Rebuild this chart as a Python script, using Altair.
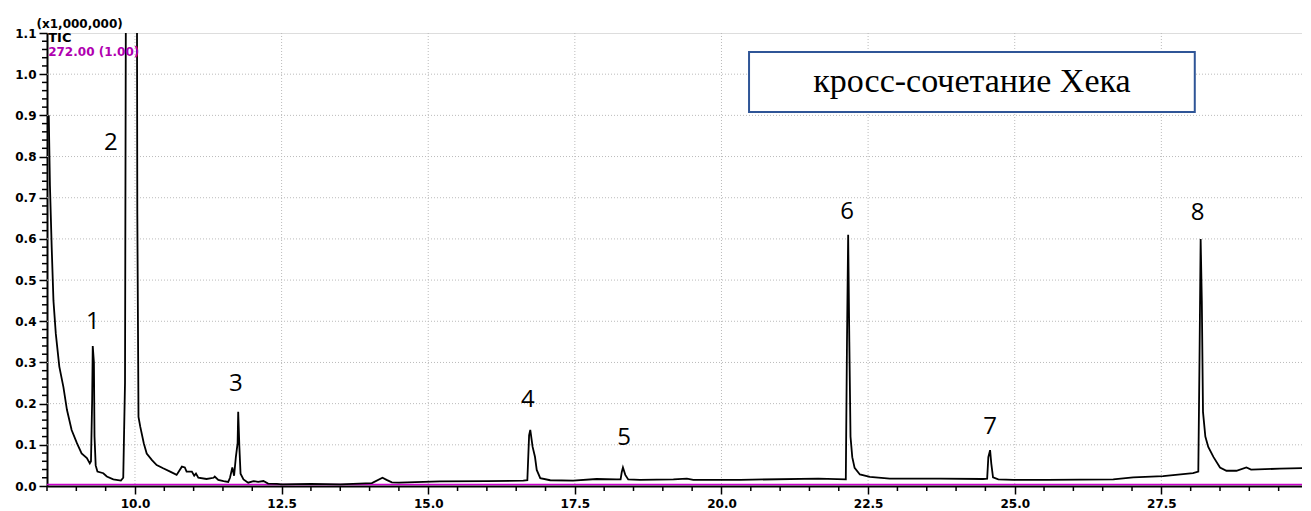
import altair as alt
import pandas as pd
import numpy as np

# ---- data ----
rt_min = [8.53, 8.55, 8.58, 8.61, 8.65, 8.71, 8.78, 8.84, 8.92, 9.01, 9.09, 9.18, 9.23,
          9.25, 9.27, 9.28, 9.30, 9.31, 9.33, 9.36, 9.46, 9.52, 9.63, 9.76, 9.80, 9.83,
          9.85, 10.03, 10.04, 10.06, 10.09, 10.15, 10.20, 10.29, 10.37, 10.48, 10.60, 10.71,
          10.80, 10.85, 10.88, 10.97, 11.01, 11.04, 11.08, 11.22, 11.34, 11.36, 11.42, 11.51,
          11.59, 11.62, 11.66, 11.69, 11.72, 11.75, 11.76, 11.78, 11.80, 11.85, 11.93, 12.02,
          12.10, 12.19, 12.27, 12.42, 12.50, 13.00, 13.50, 14.04, 14.22, 14.29, 14.38, 14.50,
          15.20, 16.00, 16.62, 16.69, 16.72, 16.74, 16.78, 16.82, 16.85, 16.91, 17.08, 17.47,
          17.87, 18.21, 18.28, 18.30, 18.32, 18.36, 18.41, 18.61, 19.18, 19.41, 19.52, 20.32,
          21.65, 22.12, 22.14, 22.16, 22.18, 22.20, 22.23, 22.27, 22.36, 22.53, 22.87, 23.73,
          24.46, 24.53, 24.55, 24.58, 24.60, 24.63, 24.72, 24.98, 25.55, 26.68, 27.02, 27.53,
          28.04, 28.13, 28.15, 28.17, 28.19, 28.21, 28.25, 28.30, 28.39, 28.50, 28.61, 28.78,
          28.95, 29.03, 29.52, 30.00]
tic_signal = [0.90, 0.73, 0.58, 0.45, 0.37, 0.29, 0.24, 0.185, 0.136, 0.104, 0.079, 0.068, 0.055,
              0.06, 0.21, 0.34, 0.30, 0.12, 0.05, 0.035, 0.031, 0.023, 0.016, 0.013, 0.02, 0.25,
              1.5, 1.5, 0.66, 0.168, 0.144, 0.104, 0.079, 0.063, 0.051, 0.043, 0.035, 0.027,
              0.047, 0.045, 0.035, 0.035, 0.025, 0.03, 0.02, 0.017, 0.02, 0.023, 0.015, 0.012,
              0.01, 0.02, 0.045, 0.025, 0.07, 0.104, 0.18, 0.095, 0.03, 0.016, 0.008, 0.012,
              0.01, 0.012, 0.006, 0.005, 0.004, 0.005, 0.004, 0.007, 0.02, 0.015, 0.009, 0.008,
              0.011, 0.012, 0.013, 0.014, 0.123, 0.136, 0.095, 0.071, 0.039, 0.019, 0.014, 0.013,
              0.017, 0.016, 0.016, 0.034, 0.045, 0.027, 0.016, 0.015, 0.016, 0.018, 0.015, 0.015,
              0.018, 0.016, 0.35, 0.61, 0.35, 0.12, 0.07, 0.044, 0.028, 0.022, 0.018, 0.018,
              0.017, 0.018, 0.07, 0.087, 0.055, 0.021, 0.016, 0.015, 0.015, 0.016, 0.021, 0.024,
              0.031, 0.035, 0.30, 0.60, 0.45, 0.18, 0.12, 0.095, 0.07, 0.045, 0.037, 0.037,
              0.045, 0.04, 0.042, 0.044]

peak_labels = ["1", "2", "3", "4", "5", "6", "7", "8"]
peak_label_rt = [9.28, 9.59, 11.72, 16.70, 18.34, 22.14, 24.58, 28.12]
peak_label_y = [0.398, 0.833, 0.248, 0.209, 0.117, 0.665, 0.143, 0.663]

x_major = [10.0, 12.5, 15.0, 17.5, 20.0, 22.5, 25.0, 27.5]
y_grid = [0.1, 0.2, 0.3, 0.4, 0.5, 0.6, 0.7, 0.8, 0.9, 1.0]
y_major = [0.0, 0.1, 0.2, 0.3, 0.4, 0.5, 0.6, 0.7, 0.8, 0.9, 1.0, 1.1]
y_minor = [round(v, 2) for v in np.arange(0.02, 1.1, 0.02) if round(v * 50) % 5 != 0]
x_minor = [round(v, 1) for v in np.arange(8.5, 29.9, 0.5) if round(v * 2) % 5 != 0]

caption = "кросс-сочетание Хека"

# plot area 1255 px wide keeps the whole chart inside the window;
# domain max trimmed so the minutes-to-pixel scale matches the reference
W, H = 1255, 453
X_MAX = 8.5 + W / 58.65
xs = alt.Scale(domain=[8.5, X_MAX], nice=False, zero=False)
ys = alt.Scale(domain=[0.0, 1.1], nice=False, zero=False)

AX_FONT = "DejaVu Sans"

trace = pd.DataFrame({"rt": rt_min, "sig": tic_signal})
labels_df = pd.DataFrame({"rt": peak_label_rt, "y": peak_label_y, "lab": peak_labels})

x_axis = alt.Axis(values=x_major, format=".1f", labelOverlap=False, labelFlush=False,
                  grid=False, tickSize=8, tickColor="black", tickWidth=1.5, domainColor="black",
                  domainWidth=2, labelFont=AX_FONT, labelFontWeight="bold", labelFontSize=12,
                  labelColor="black", labelPadding=4, title=None)
y_axis = alt.Axis(values=y_major, format=".1f", grid=False, tickSize=8, tickColor="black", tickWidth=1.5,
                  labelOverlap=False, labelFlush=False,
                  domainColor="black", domainWidth=2, labelFont=AX_FONT, labelFontWeight="bold",
                  labelFontSize=12, labelColor="black", labelPadding=3,
                  title="(x1,000,000)", titleAngle=0, titleX=-11, titleY=-6, titleAlign="left",
                  titleBaseline="alphabetic", titleFont=AX_FONT, titleFontWeight="bold",
                  titleFontSize=12, titleColor="black")

grid_style = dict(color="#BBBBBB", strokeDash=[1, 2], strokeWidth=1)
vgrid = alt.Chart(pd.DataFrame({"x": x_major})).mark_rule(**grid_style).encode(
    x=alt.X("x:Q", scale=xs, axis=x_axis))
hgrid = alt.Chart(pd.DataFrame({"y": y_grid})).mark_rule(**grid_style).encode(
    y=alt.Y("y:Q", scale=ys, axis=y_axis))

yminor = alt.Chart(pd.DataFrame({"y": y_minor})).mark_rule(color="black", strokeWidth=1.5).encode(
    y=alt.Y("y:Q", scale=ys), x=alt.value(-5), x2=alt.value(0))
xminor = alt.Chart(pd.DataFrame({"x": x_minor})).mark_rule(color="black", strokeWidth=1.5).encode(
    x=alt.X("x:Q", scale=xs), y=alt.value(H), y2=alt.value(H + 5))

baseline = alt.Chart(pd.DataFrame({"y": [0.0]})).mark_rule(color="#CC00CC", strokeWidth=1.5, yOffset=-1.5).encode(
    y=alt.Y("y:Q", scale=ys))

line = alt.Chart(trace).mark_line(color="black", strokeWidth=1.8, clip=True).encode(
    x=alt.X("rt:Q", scale=xs), y=alt.Y("sig:Q", scale=ys))

peak_text = alt.Chart(labels_df).mark_text(font="Open Sans", fontSize=24, color="black",
                                           align="center", baseline="middle").encode(
    x=alt.X("rt:Q", scale=xs), y=alt.Y("y:Q", scale=ys), text="lab:N")

box = alt.Chart(pd.DataFrame({"x1": [20.47], "x2": [28.07], "y1": [0.908], "y2": [1.054]})).mark_rect(
    fill="white", stroke="#2F5597", strokeWidth=2).encode(
    x=alt.X("x1:Q", scale=xs), x2="x2:Q", y=alt.Y("y1:Q", scale=ys), y2="y2:Q")
box_text = alt.Chart(pd.DataFrame({"x": [24.27], "y": [0.981], "t": [caption]})).mark_text(
    font="Liberation Serif", fontSize=34, color="black", align="center", baseline="middle").encode(
    x=alt.X("x:Q", scale=xs), y=alt.Y("y:Q", scale=ys), text="t:N")

tic_text = alt.Chart(pd.DataFrame({"x": [8.52, 8.52], "y": [1.077, 1.043], "t": ["TIC", "272.00 (1.00)"],
                                   "c": ["black", "#B000B0"], "s": [13, 12]})).mark_text(
    font=AX_FONT, fontWeight="bold", align="left", baseline="alphabetic").encode(
    x=alt.X("x:Q", scale=xs), y=alt.Y("y:Q", scale=ys), text="t:N",
    color=alt.Color("c:N", scale=None), size=alt.Size("s:Q", scale=None))

chart = alt.layer(vgrid, hgrid, box, box_text, yminor, xminor, baseline, line, peak_text, tic_text).properties(
    width=W, height=H,
    autosize=alt.AutoSizeParams(type="none"),
    padding={"left": 39, "top": 25, "right": 0, "bottom": 30},
).configure_view(stroke="black", strokeWidth=2).configure(background="white")

chart.save("out.html", embed_options={"renderer": "svg", "actions": False})
